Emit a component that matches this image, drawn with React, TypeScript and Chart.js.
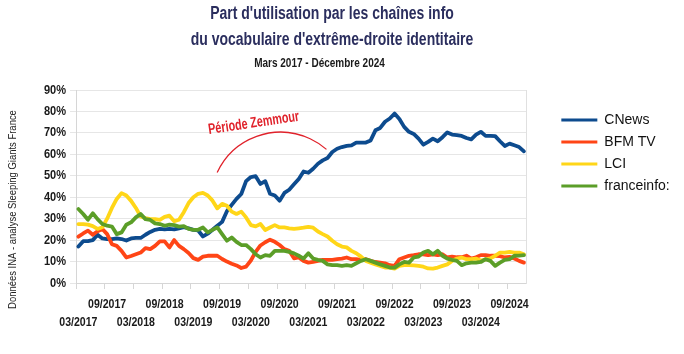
import React, { useEffect, useRef } from 'react';
import { Chart, registerables } from 'chart.js';

Chart.register(...registerables);

// ---- Data ----
const FIRST_YEAR = 2017;
const FIRST_MONTH = 3;
const MONTH_COUNT = 94; // 03/2017 -> 12/2024

const monthLabels: string[] = [];
for (let k = 0; k < MONTH_COUNT; k++) {
  const m = ((FIRST_MONTH - 1 + k) % 12) + 1;
  const y = FIRST_YEAR + Math.floor((FIRST_MONTH - 1 + k) / 12);
  monthLabels.push(`${String(m).padStart(2, '0')}/${y}`);
}

const seriesNames = ['CNews', 'BFM TV', 'LCI', 'franceinfo:'];

const cnews = [
  17, 19.5, 19.5, 20, 22.5, 20.8, 20.5, 20.5, 20.8, 20.5,
  19.8, 20.8, 21, 21, 22.5, 23.8, 24.8, 25.2, 25, 25.2,
  25, 25.5, 26, 25.5, 24.8, 24.5, 21.7, 23, 24.8, 26.7,
  28.5, 33.5, 36.4, 39.2, 41.5, 47.5, 49.4, 49.8, 46.2, 47.5,
  41.6, 40.8, 38.4, 42, 43.5, 46, 48.5, 52, 51.4, 53.3,
  55.6, 57.2, 58.3, 61.1, 62.6, 63.4, 63.9, 64.2, 65.5, 65.5,
  65.5, 66.5, 71.2, 72.3, 75.2, 76.7, 79, 76.5, 72.8, 70.5,
  69.5, 67.3, 64.5, 65.8, 67.3, 66.1, 68, 70.2, 69.2, 69,
  68.6, 67.6, 67, 69.2, 70.5, 68.6, 68.6, 68.5, 66.1, 63.9,
  65, 64.2, 63.4, 61.4,
];

const bfmtv = [
  21.6, 23.1, 24.4, 22.5, 24.1, 25.2, 22.8, 18.1, 17.3, 15,
  11.9, 12.6, 13.4, 14.2, 16.3, 15.8, 17.3, 19.4, 19.4, 16.6,
  20, 17.3, 15.8, 14, 11.6, 10.8, 12.3, 12.7, 12.7, 12.7,
  11.2, 10, 9, 8.2, 7, 7.6, 10.5, 14.5, 17.5, 19,
  20.2, 19.2, 17.7, 15.8, 15, 11.5, 11.9, 10.3, 9.5, 9.8,
  10.3, 10.8, 10.8, 10.8, 11.1, 11.4, 11.9, 11.1, 11.1, 10.8,
  11.1, 10.3, 9.8, 9.5, 9.2, 8.3, 8, 11.1, 11.9, 12.7,
  13, 13.4, 13.4, 13, 13.4, 13, 13.4, 11.9, 12.3, 12,
  12, 12.7, 11.4, 12, 13, 13, 12.7, 12.7, 12.5, 11.9,
  12.2, 11.4, 10.3, 9.5,
];

const lci = [
  27.5, 27.5, 27.2, 26.5, 25.2, 26, 30, 35, 39.2, 41.9,
  40.8, 38.3, 35, 31, 30.2, 29.8, 29.8, 29.4, 30.8, 31.4,
  28.8, 29.5, 33, 37.3, 40, 41.6, 42, 40.8, 38.4, 34.8,
  36.9, 36, 33.3, 32.2, 33.3, 30.6, 27, 26.4, 27.5, 24.7,
  25.9, 27, 25.9, 25.9, 25.5, 25.2, 25.5, 25.8, 26.2, 25.8,
  24, 22.8, 21.7, 19.7, 18.1, 17, 16.6, 15, 13.9, 12.3,
  10.3, 9.5, 8.7, 8, 7.2, 7.2, 6.7, 8, 8.3, 8.3,
  8.2, 8, 7.6, 6.8, 6.7, 7.2, 8, 8.7, 10.3, 11.4,
  11.9, 11.1, 11.1, 11.4, 10.5, 11, 11.5, 12.7, 14.2, 14.2,
  14.5, 14.2, 14.2, 13.4,
];

const franceinfo = [
  34.5, 32.2, 29.5, 32.5, 29.8, 27.5, 26.7, 26.3, 22.8, 23.6,
  27.2, 28.3, 30.6, 32.2, 29.8, 29.4, 27.8, 27.5, 26.7, 27.2,
  27, 26.3, 26.5, 25.2, 24.8, 24.8, 25.9, 23.6, 24.8, 25.9,
  22.8, 19.7, 21.2, 19.2, 17.7, 17.7, 15.8, 13.4, 11.9, 13,
  12.7, 15, 15, 15, 14.5, 13.8, 12.7, 11.4, 13.9, 11.4,
  10.8, 10.3, 8.7, 8.3, 8.3, 8, 8.3, 8, 9.2, 10.3,
  11.1, 10.3, 9.5, 8.7, 8, 7.2, 7.2, 8.7, 9.8, 9.5,
  11.9, 12.3, 14.2, 15, 13.4, 15, 12.7, 11.4, 10.8, 10.3,
  8.3, 9.2, 9.5, 9.5, 9.8, 11.1, 10.3, 8, 9.5, 10.8,
  11.1, 12.7, 12.8, 13,
];

const seriesValues = [cnews, bfmtv, lci, franceinfo];
const seriesColors = ['#0d4b8e', '#ff4516', '#ffd618', '#5b9e28'];
const seriesOrder = [4, 3, 2, 1];

const yTicks = [0, 10, 20, 30, 40, 50, 60, 70, 80, 90];

const titleLines = [
  "Part d'utilisation par les chaînes info",
  "du vocabulaire d'extrême-droite identitaire",
];
const subtitleText = 'Mars 2017 - Décembre 2024';
const sourceText = 'Données INA - analyse Sleeping Giants France';
const annotationText = 'Période Zemmour';

// annotation anchors (in data units: month index / percent)
const ARC_CENTER_INDEX = 42.2;
const ARC_CENTER_VALUE = 37.7;
const ARC_RADIUS_MONTHS = 14.6;
const ANNOT_INDEX = 36.6;
const ANNOT_VALUE = 74.5;

// Condensed look: a marker family "sxNN" tells the patched context to squeeze text horizontally to NN %.
const cond = (pct: number) => `sx${pct}, 'Liberation Sans', Arial, sans-serif`;
const PLAIN = "'Liberation Sans', Arial, sans-serif";

function squeezeFor(font: string): number {
  const m = /sx(\d+)/.exec(font || '');
  return m ? Number(m[1]) / 100 : 1;
}

function patchContext(ctx: any) {
  if (ctx.__squeezed) return;
  ctx.__squeezed = true;
  const origFill = ctx.fillText.bind(ctx);
  const origMeasure = ctx.measureText.bind(ctx);
  ctx.fillText = (text: string, x: number, y: number, maxWidth?: number) => {
    const s = squeezeFor(ctx.font);
    if (s === 1) {
      if (maxWidth === undefined) origFill(text, x, y);
      else origFill(text, x, y, maxWidth);
      return;
    }
    ctx.save();
    ctx.translate(x, y);
    ctx.scale(s, 1);
    if (maxWidth === undefined) origFill(text, 0, 0);
    else origFill(text, 0, 0, maxWidth / s);
    ctx.restore();
  };
  ctx.measureText = (text: string) => {
    const m = origMeasure(text);
    const s = squeezeFor(ctx.font);
    if (s === 1) return m;
    return {
      width: m.width * s,
      actualBoundingBoxLeft: m.actualBoundingBoxLeft * s,
      actualBoundingBoxRight: m.actualBoundingBoxRight * s,
      actualBoundingBoxAscent: m.actualBoundingBoxAscent,
      actualBoundingBoxDescent: m.actualBoundingBoxDescent,
      fontBoundingBoxAscent: m.fontBoundingBoxAscent,
      fontBoundingBoxDescent: m.fontBoundingBoxDescent,
    };
  };
}

// let the legend text use the free space on the right (legend clips to its own box)
const legendRoomPlugin = {
  id: 'legendRoom',
  beforeDraw(chart: any) {
    if (chart.legend) chart.legend.right = chart.width;
  },
};

const annotationPlugin = {
  id: 'zemmourAnnotation',
  afterDatasetsDraw(chart: any) {
    const { ctx } = chart;
    const x = chart.scales.x;
    const y = chart.scales.y;
    ctx.save();
    const cx = x.getPixelForValue(ARC_CENTER_INDEX);
    const cy = y.getPixelForValue(ARC_CENTER_VALUE);
    const r = x.getPixelForValue(ARC_CENTER_INDEX + ARC_RADIUS_MONTHS) - cx;
    ctx.beginPath();
    ctx.arc(cx, cy, r, (-155 * Math.PI) / 180, (-49 * Math.PI) / 180);
    ctx.strokeStyle = '#e0222b';
    ctx.lineWidth = 1.3;
    ctx.stroke();
    ctx.translate(x.getPixelForValue(ANNOT_INDEX), y.getPixelForValue(ANNOT_VALUE));
    ctx.rotate((-8.5 * Math.PI) / 180);
    ctx.font = `bold 15px ${cond(72)}`;
    ctx.fillStyle = '#e0222b';
    ctx.textAlign = 'center';
    ctx.textBaseline = 'middle';
    ctx.fillText(annotationText, 0, 0);
    ctx.restore();
  },
};

const sourcePlugin = {
  id: 'sourceText',
  afterDraw(chart: any) {
    const { ctx, chartArea } = chart;
    ctx.save();
    ctx.translate(13, (chartArea.top + chartArea.bottom) / 2 + 23);
    ctx.rotate(-Math.PI / 2);
    ctx.font = `11px ${cond(86)}`;
    ctx.fillStyle = '#222';
    ctx.textAlign = 'center';
    ctx.textBaseline = 'middle';
    ctx.fillText(sourceText, 0, 0);
    ctx.restore();
  },
};

export default function App() {
  const canvasRef = useRef<HTMLCanvasElement | null>(null);

  useEffect(() => {
    const canvas = canvasRef.current;
    if (!canvas) return;
    patchContext(canvas.getContext('2d'));
    const chart = new Chart(canvas, {
      type: 'line',
      data: {
        labels: monthLabels,
        datasets: seriesNames.map((name, i) => ({
          label: name,
          data: seriesValues[i],
          borderColor: seriesColors[i],
          backgroundColor: seriesColors[i],
          borderWidth: 3.8,
          pointRadius: 0,
          pointHoverRadius: 0,
          tension: 0,
          borderJoinStyle: 'round' as const,
          borderCapStyle: 'round' as const,
          order: seriesOrder[i],
          yAxisID: 'y',
        })),
      },
      options: {
        animation: false,
        responsive: true,
        maintainAspectRatio: false,
        layout: { padding: { left: 0, right: 20, top: 1, bottom: 16 } },
        plugins: {
          tooltip: { enabled: false },
          title: {
            display: true,
            text: titleLines,
            color: '#2b2e5e',
            font: { family: cond(80), size: 17.5, weight: 'bold', lineHeight: '26px' },
            padding: { top: 0, bottom: 3 },
          },
          subtitle: {
            display: true,
            text: subtitleText + '\u00a0'.repeat(9),
            color: '#1a1a1a',
            font: { family: cond(80), size: 12.5, weight: 'bold', lineHeight: '16px' },
            padding: { top: 0, bottom: 18 },
          },
          legend: {
            display: true,
            position: 'right',
            align: 'start',
            fullSize: false,
            title: { display: true, text: ' ', font: { size: 10, lineHeight: '15px' }, padding: 0 },
            labels: {
              boxWidth: 36,
              boxHeight: 3,
              padding: 8,
              color: '#111',
              font: { family: PLAIN, size: 14 },
              sort: (a: any, b: any) => a.datasetIndex - b.datasetIndex,
              generateLabels: (chart: any) =>
                Chart.defaults.plugins.legend.labels
                  .generateLabels(chart)
                  .map((l: any) => ({ ...l, lineWidth: 0 })),
            },
          },
        },
        scales: {
          x: {
            type: 'category',
            offset: true,
            grid: {
              offset: true,
              drawOnChartArea: false,
              drawTicks: true,
              tickLength: 6,
              color: (c: any) => (c.index % 6 === 0 ? '#d6d6d6' : 'rgba(0,0,0,0)'),
            },
            border: { display: true, color: '#d6d6d6' },
            ticks: {
              autoSkip: false,
              maxRotation: 0,
              minRotation: 0,
              padding: 6,
              color: '#1a1a1a',
              font: { family: cond(88), size: 12, weight: 'bold', lineHeight: '18.5px' },
              callback: (_v: any, idx: number) => {
                if (idx % 6 !== 0) return '';
                const lab = monthLabels[idx];
                return idx % 12 === 0 ? ['', lab] : [lab];
              },
            },
          },
          y: {
            type: 'linear',
            position: 'left',
            min: yTicks[0],
            max: yTicks[yTicks.length - 1],
            afterBuildTicks: (s: any) => {
              s.ticks = yTicks.map((v) => ({ value: v }));
            },
            afterFit: (s: any) => {
              s.width = 76;
            },
            grid: { color: '#e6e6e6', tickLength: 6, drawTicks: true },
            border: { display: true, color: '#d6d6d6' },
            ticks: {
              padding: 4,
              color: '#1a1a1a',
              font: { family: cond(85), size: 13, weight: 'bold' },
              callback: (v: any) => `${v}%`,
            },
          },
          y2: {
            type: 'linear',
            position: 'right',
            min: yTicks[0],
            max: yTicks[yTicks.length - 1],
            afterFit: (s: any) => {
              s.width = 27;
            },
            grid: { drawOnChartArea: false, drawTicks: false },
            border: { display: true, color: '#e0e0e0' },
            ticks: { display: false },
          },
        },
      },
      plugins: [legendRoomPlugin, annotationPlugin, sourcePlugin],
    } as any);
    return () => chart.destroy();
  }, []);

  return (
    <div style={{ position: 'fixed', left: 0, top: 0, width: 684, height: 354, background: '#fff' }}>
      <canvas ref={canvasRef} />
    </div>
  );
}
